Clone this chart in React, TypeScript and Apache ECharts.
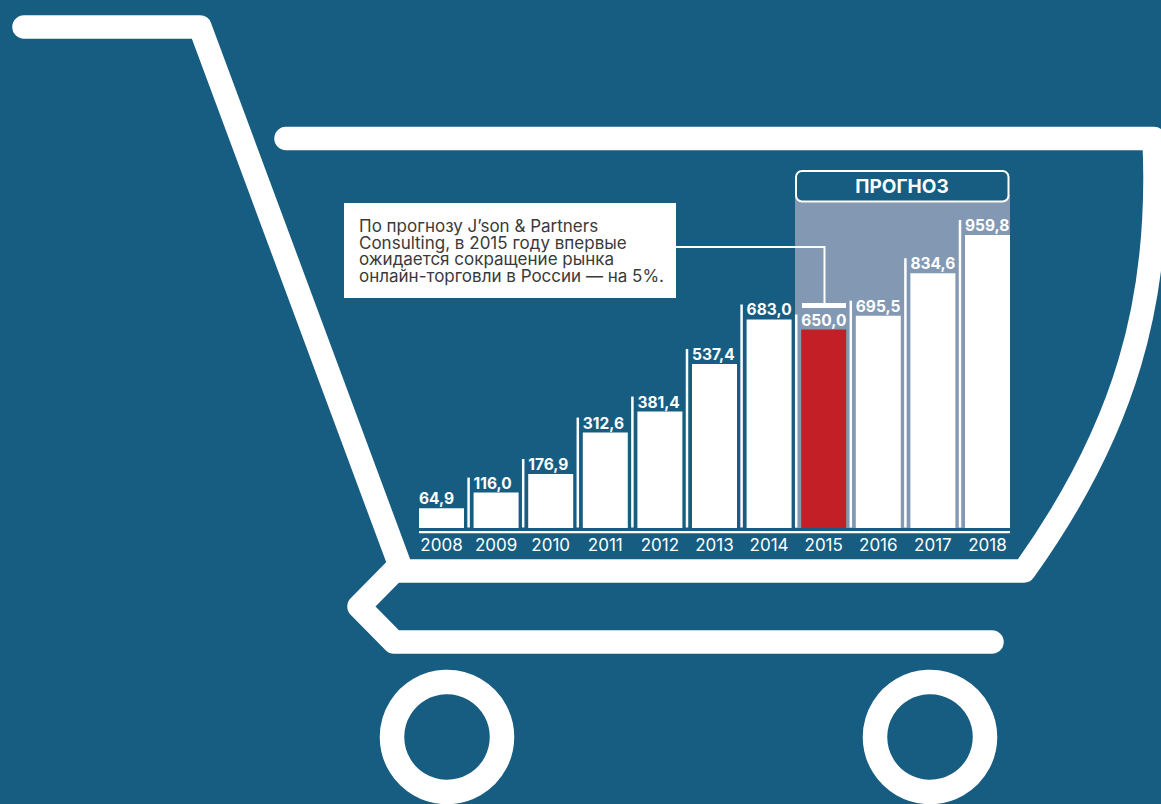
import React, { useEffect, useRef } from "react";
import * as echarts from "echarts";

const years = ["2008", "2009", "2010", "2011", "2012", "2013", "2014", "2015", "2016", "2017", "2018"];
const values = [64.9, 116.0, 176.9, 312.6, 381.4, 537.4, 683.0, 650.0, 695.5, 834.6, 959.8];
const highlightYear = "2015";
const forecastTitle = "ПРОГНОЗ";
const noteText = "По прогнозу J’son & Partners\nConsulting, в 2015 году впервые\nожидается сокращение рынка\nонлайн-торговли в России — на 5%.";

const BG = "#175d81";
const PANEL = "#8399b3";
const RED = "#c22026";
const WHITE = "#ffffff";

const cartD =
  "M24 27 L200 27 L402 571 " +
  "M286 138.5 L1154 138.5 C1162 300 1125 430 1024 571 L394 571 L359 606.5 L394 642 L992 642";

export default function App() {
  const ref = useRef<HTMLDivElement>(null);
  useEffect(() => {
    echarts.graphic.registerShape("cart", echarts.graphic.extendPath(cartD as any, {}) as any);
    const chart = echarts.init(ref.current!, null, { renderer: "svg" });
    const band = 54.6;
    const left = 441.5 - band / 2;
    chart.setOption({
      animation: false,
      backgroundColor: BG,
      grid: { left, top: 222.7, width: band * 11, height: 305.3 },
      xAxis: {
        type: "category",
        data: years,
        axisLine: { show: false },
        axisTick: { show: false },
        axisLabel: { color: WHITE, fontFamily: "Inter", fontSize: 17, margin: 8, interval: 0 },
      },
      yAxis: { type: "value", min: 0, max: 1000, show: false },
      series: [
        {
          type: "bar",
          z: 3,
          barWidth: 45,
          data: values.map((v, i) => ({
            value: v,
            itemStyle: { color: years[i] === highlightYear ? RED : WHITE },
          })),
          label: {
            show: true,
            position: [0, -17.5],
            color: WHITE,
            fontFamily: "Inter",
            fontWeight: "bold",
            fontSize: 15.5,
            formatter: (p: any) => p.value.toFixed(1).replace(".", ","),
          },
        },
        {
          type: "custom",
          z: 3,
          silent: true,
          data: values.map((v, i) => [i, v]),
          renderItem: (params: any, api: any) => {
            if (api.value(0) === 0) return null;
            const [x, y] = api.coord([api.value(0), api.value(1)]);
            const [, y0] = api.coord([api.value(0), 0]);
            return {
              type: "rect",
              shape: { x: x - 27.5 - 1.25, y: y - 15, width: 2.5, height: y0 - y + 15 - 0.5 },
              style: { fill: WHITE },
            };
          },
        },
      ],
      graphic: [
        { type: "rect", z: 1, shape: { x: 795, y: 195, width: 215, height: 333 }, style: { fill: PANEL } },
        {
          type: "cart",
          z: 1,
          style: { fill: "none", stroke: WHITE, lineWidth: 23.5, lineCap: "round", lineJoin: "round" },
        },
        { type: "circle", z: 1, shape: { cx: 447, cy: 737, r: 55 }, style: { fill: "none", stroke: WHITE, lineWidth: 24.5 } },
        { type: "circle", z: 1, shape: { cx: 930, cy: 737, r: 55 }, style: { fill: "none", stroke: WHITE, lineWidth: 24.5 } },
        { type: "rect", z: 1, shape: { x: 419, y: 531, width: 591, height: 2.2 }, style: { fill: WHITE } },
        {
          type: "rect",
          z: 4,
          shape: { x: 796, y: 171, width: 212.5, height: 30.5, r: 6 },
          style: { fill: BG, stroke: WHITE, lineWidth: 2 },
        },
        {
          type: "text",
          z: 5,
          style: {
            x: 902,
            y: 186,
            text: forecastTitle,
            fill: WHITE,
            align: "center",
            verticalAlign: "middle",
            font: "bold 19px Inter",
          },
        },
        { type: "rect", z: 4, shape: { x: 344, y: 203, width: 332, height: 95 }, style: { fill: WHITE } },
        {
          type: "text",
          z: 5,
          style: {
            x: 359,
            y: 218,
            text: noteText,
            fill: "#3a3a3a",
            font: "17px Inter",
            lineHeight: 16.5,
            verticalAlign: "top",
          },
        },
        {
          type: "polyline",
          z: 4,
          shape: { points: [[676, 247], [824.5, 247], [824.5, 304]] },
          style: { fill: "none", stroke: WHITE, lineWidth: 2 },
        },
        { type: "rect", z: 4, shape: { x: 802, y: 303, width: 44, height: 5 }, style: { fill: WHITE } },
      ],
    });
    return () => chart.dispose();
  }, []);
  return (
    <div
      ref={ref}
      style={{ position: "absolute", left: 0, top: 0, width: 1161, height: 804, overflow: "hidden" }}
    />
  );
}
